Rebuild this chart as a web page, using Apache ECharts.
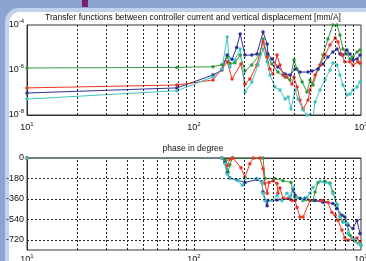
<!DOCTYPE html>
<html>
<head>
<meta charset="utf-8">
<style>
  html, body { margin: 0; padding: 0; background: #8ba5d0; }
  #chart { width: 366px; height: 261px; }
</style>
<script src="https://cdn.jsdelivr.net/npm/echarts@6.0.0/dist/echarts.min.js"></script>
</head>
<body>
<div id="chart"></div>
<script>
// [frequency Hz, magnitude mm/A]
const magGreen = [[10,1.23e-6],[79,1.3e-6],[130,1.4e-6],[147,1.7e-6],[158,3.8e-6],[164,2.0e-6],[176,2.1e-6],[189,4.6e-6],[202,9.0e-7],[222,1.67e-6],[248,5.1e-6],[259,2.4e-5],[274,4.6e-6],[293,1.85e-6],[318,8.1e-7],[351,4.9e-7],[376,3.6e-7],[397,2.8e-6],[414,1.1e-6],[444,2.9e-7],[475,1.05e-7],[495,3.6e-7],[516,2.15e-7],[553,1.1e-6],[592,4.6e-6],[634,2.4e-5],[679,1e-4],[718,1e-4],[748,3.6e-5],[780,8.6e-6],[824,5.1e-6],[859,3.1e-6],[895,3.8e-6],[946,6.3e-6],[986,7.7e-6]];
const magBlue = [[10,9.5e-8],[79,1.6e-7],[130,6.0e-7],[147,1e-6],[158,4.6e-6],[169,3.0e-6],[180,1.0e-5],[189,4.0e-5],[202,4.6e-6],[222,4.6e-6],[238,5.1e-6],[259,4.9e-5],[274,1.43e-5],[277,5.1e-6],[293,3.1e-6],[318,1.36e-6],[351,6.6e-7],[376,6.0e-7],[403,1.1e-6],[431,8.1e-7],[482,8.1e-7],[509,9.0e-7],[553,1.1e-6],[592,1.85e-6],[634,3.8e-6],[679,6.3e-6],[718,8.6e-6],[748,5.1e-6],[780,4.6e-6],[824,7.7e-6],[859,5.1e-6],[895,2.8e-6],[946,3.1e-6],[986,4.6e-6]];
const magRed = [[10,1.6e-7],[79,2.15e-7],[130,3.6e-7],[147,1.1e-6],[158,2.3e-6],[169,4.0e-7],[191,1.85e-6],[202,2.4e-7],[216,4.0e-7],[238,1.67e-6],[259,1.75e-5],[274,3.8e-6],[285,1.1e-6],[297,6.6e-7],[314,4.6e-6],[327,1.67e-6],[341,6.0e-7],[360,4.9e-7],[386,2.4e-7],[397,4.9e-7],[414,1.75e-7],[431,4.6e-8],[450,1.85e-8],[482,4.6e-8],[495,1.3e-7],[531,6.0e-7],[568,1.67e-6],[608,4.6e-6],[652,1.3e-5],[700,2.65e-5],[728,1.75e-5],[769,4.6e-6],[800,2.3e-6],[859,2.3e-6],[895,1.67e-6],[959,2.3e-6],[986,2.0e-6]];
const magCyan = [[10,5.1e-8],[79,1.2e-7],[130,4.9e-7],[147,1.1e-6],[158,2.9e-5],[164,1.36e-6],[176,2.8e-6],[189,8.6e-6],[202,1.05e-7],[222,2.9e-7],[242,1.67e-6],[259,8.6e-6],[274,2.3e-6],[285,6.0e-7],[305,1.75e-7],[327,1.3e-7],[351,5.1e-8],[366,6.3e-8],[381,1.85e-8],[403,1.3e-7],[420,5.1e-8],[450,1.67e-8],[475,1e-8],[516,8e-9],[531,3.8e-8],[568,1.3e-7],[608,3.6e-7],[652,1e-6],[679,2.05e-6],[718,1.67e-6],[748,6.0e-7],[780,2.15e-7],[824,7.7e-8],[859,8.6e-8],[895,1.3e-7],[946,1.75e-7],[986,2.9e-7]];

// [frequency Hz, phase deg]
const phaseGreen = [[10,0],[147,0],[155,-20],[160,-125],[164,-60],[170,0],[259,0],[266,-180],[305,-180],[341,-200],[381,-215],[403,-345],[450,-375],[516,-375],[531,-300],[553,-215],[608,-205],[652,-220],[679,-300],[718,-410],[748,-515],[780,-560],[824,-580],[859,-680],[920,-730],[1000,-770]];
const phaseBlue = [[10,0],[147,0],[153,-40],[158,-130],[164,-175],[182,-195],[202,-215],[238,-190],[255,-210],[259,-300],[274,-420],[277,-375],[314,-370],[376,-360],[392,-270],[403,-330],[431,-355],[462,-355],[531,-375],[592,-390],[679,-400],[718,-445],[769,-505],[800,-520],[836,-590],[895,-620],[946,-550],[986,-665]];
const phaseRed = [[10,0],[147,0],[158,-65],[164,-10],[171,0],[191,-85],[202,-170],[216,-50],[227,0],[248,0],[259,-95],[266,-225],[274,-310],[281,-215],[297,-200],[314,-225],[318,-310],[327,-265],[341,-355],[366,-355],[386,-375],[403,-375],[414,-435],[431,-520],[450,-520],[495,-375],[584,-375],[634,-390],[670,-480],[700,-505],[728,-550],[769,-635],[800,-705],[836,-725],[883,-705],[946,-705],[986,-740]];
const phaseCyan = [[10,0],[147,0],[153,-50],[158,-140],[164,-180],[182,-200],[195,-240],[202,-180],[238,-180],[255,-215],[259,-310],[266,-375],[293,-375],[314,-330],[336,-375],[360,-310],[376,-340],[392,-260],[414,-345],[450,-365],[475,-345],[495,-310],[516,-260],[568,-205],[608,-215],[652,-230],[679,-310],[718,-415],[748,-520],[780,-565],[824,-575],[836,-665],[883,-705],[920,-725],[959,-750],[1000,-765]];

// dashed grid positions
const freqGrid = [20, 30, 40, 50, 60, 70, 80, 90, 100, 200, 300, 400, 500, 600, 700, 800, 900];
const magGrid = [1e-6, 1e-8];
const phaseGrid = [-180, -360, -540, -720];

const FONT = 'Liberation Sans, Arial, sans-serif';

const chart = echarts.init(document.getElementById('chart'), null, { renderer: 'canvas' });

function powLabel(v) {
  const e = Math.round(Math.log10(v));
  return '{b|10}{s|' + e + '}';
}

const rich = {
  b: { fontSize: 9, lineHeight: 13, fontFamily: FONT, color: '#111' },
  s: { fontSize: 6, verticalAlign: 'top', fontFamily: FONT, color: '#111' }
};

function xAxis(gridIndex, margin) {
  return {
    type: 'log', logBase: 10, gridIndex: gridIndex, min: 10, max: 1000,
    axisLine: { lineStyle: { color: '#333', width: 1 } },
    axisTick: { show: false },
    splitLine: { show: false },
    axisLabel: { margin: margin, formatter: powLabel, rich: rich, hideOverlap: false }
  };
}

function lineSeries(name, color, data, xi, yi) {
  return {
    name: name, type: 'line', xAxisIndex: xi, yAxisIndex: yi,
    data: data, symbol: 'circle', symbolSize: 3.5, showAllSymbol: true,
    itemStyle: { color: color },
    lineStyle: { color: color, width: 1 },
    clip: true, z: 3
  };
}

function gridLines(xi, yi, yValues) {
  const lines = freqGrid.map(function (f) { return { xAxis: f }; })
    .concat(yValues.map(function (v) { return { yAxis: v }; }));
  return {
    type: 'line', xAxisIndex: xi, yAxisIndex: yi, data: [], z: 2,
    markLine: {
      silent: true, symbol: 'none', animation: false,
      label: { show: false },
      lineStyle: { color: '#222', type: [2, 2], width: 1 },
      data: lines
    }
  };
}

const colors = ['#339a3c', '#30309c', '#ee3424', '#3ec5c2'];

chart.setOption({
  animation: false,
  graphic: [
    { type: 'rect', z: -10, shape: { x: 0, y: 0, width: 366, height: 261 }, style: { fill: '#8ba5d0' } },
    { type: 'rect', z: -9, shape: { x: 5, y: 8, width: 380, height: 270, r: 14 }, style: { fill: '#c3d2ec' } },
    { type: 'rect', z: -8, shape: { x: 9, y: 12, width: 372, height: 270, r: 11 }, style: { fill: '#ffffff' } },
    { type: 'rect', z: -7, shape: { x: 82, y: 0, width: 6, height: 7 }, style: { fill: '#7d1d6e' } }
  ],
  title: [
    {
      text: 'Transfer functions between controller current and vertical displacement [mm/A]',
      left: 193, top: 13, textAlign: 'center', padding: 0,
      textStyle: { fontSize: 8.5, fontWeight: 'normal', fontFamily: FONT, color: '#111' }
    },
    {
      text: 'phase in degree',
      left: 193, top: 144, textAlign: 'center', padding: 0,
      textStyle: { fontSize: 8.5, fontWeight: 'normal', fontFamily: FONT, color: '#111' }
    }
  ],
  grid: [
    { left: 27, top: 25, width: 334, height: 90, show: true, backgroundColor: '#fff', borderColor: '#333', borderWidth: 1, outerBoundsMode: 'none', containLabel: false },
    { left: 27, top: 158, width: 334, height: 92, show: true, backgroundColor: '#fff', borderColor: '#333', borderWidth: 1, outerBoundsMode: 'none', containLabel: false }
  ],
  xAxis: [xAxis(0, 6), xAxis(1, 3)],
  yAxis: [
    {
      type: 'log', logBase: 10, gridIndex: 0, min: 1e-8, max: 1e-4,
      axisLine: { lineStyle: { color: '#333' } },
      axisTick: { show: false },
      splitLine: { show: false },
      axisLabel: {
        margin: 3, rich: rich,
        formatter: function (v) {
          const e = Math.round(Math.log10(v));
          return e % 2 === 0 ? powLabel(v) : '';
        }
      }
    },
    {
      type: 'value', gridIndex: 1, min: -810, max: 0, interval: 90,
      axisLine: { lineStyle: { color: '#333' } },
      axisTick: { show: false },
      splitLine: { show: false },
      axisLabel: {
        margin: 3, fontSize: 9, fontFamily: FONT, color: '#111',
        formatter: function (v) { return v % 180 === 0 ? String(v) : ''; }
      }
    }
  ],
  series: [
    gridLines(0, 0, magGrid),
    gridLines(1, 1, phaseGrid),
    lineSeries('green', colors[0], magGreen, 0, 0),
    lineSeries('blue', colors[1], magBlue, 0, 0),
    lineSeries('red', colors[2], magRed, 0, 0),
    lineSeries('cyan', colors[3], magCyan, 0, 0),
    lineSeries('green', colors[0], phaseGreen, 1, 1),
    lineSeries('blue', colors[1], phaseBlue, 1, 1),
    lineSeries('red', colors[2], phaseRed, 1, 1),
    lineSeries('cyan', colors[3], phaseCyan, 1, 1)
  ]
});
</script>
</body>
</html>
